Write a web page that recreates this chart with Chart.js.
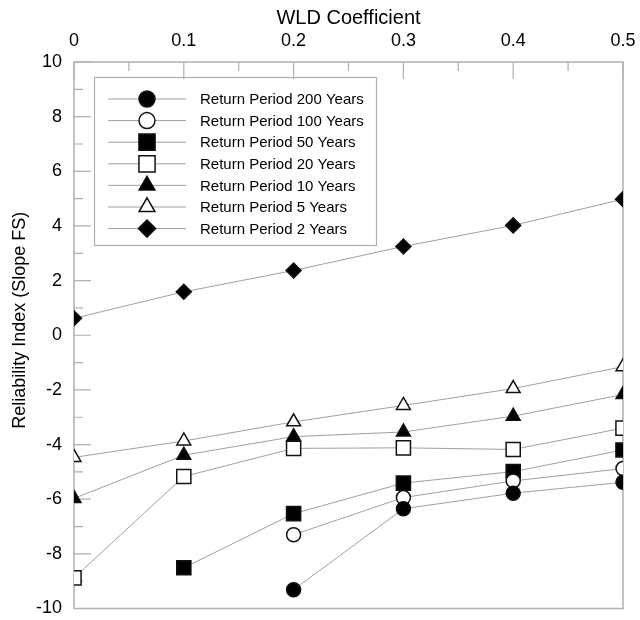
<!DOCTYPE html>
<html>
<head>
<meta charset="utf-8">
<script src="https://cdn.jsdelivr.net/npm/chart.js@4/dist/chart.umd.min.js"></script>
<style>
  body { margin: 0; background: #fff; }
  canvas { display: block; }
</style>
</head>
<body>
<canvas id="wld" width="640" height="620"></canvas>
<script>
// WLD coefficient (x axis)
var wld = [0, 0.1, 0.2, 0.3, 0.4, 0.5];
// Reliability index for each return period (null = no point)
var rp200 = [null, null, -9.31, -6.35, -5.78, -5.38];
var rp100 = [null, null, -7.30, -5.94, -5.33, -4.88];
var rp50 = [null, -8.51, -6.53, -5.41, -4.99, -4.20];
var rp20 = [-8.88, -5.17, -4.14, -4.12, -4.18, -3.40];
var rp10 = [-5.97, -4.39, -3.71, -3.54, -2.96, -2.17];
var rp5 = [-4.47, -3.87, -3.17, -2.57, -1.95, -1.15];
var rp2 = [0.62, 1.59, 2.37, 3.25, 4.02, 4.98];
var seriesNames = ["Return Period 200 Years", "Return Period 100 Years", "Return Period 50 Years",
  "Return Period 20 Years", "Return Period 10 Years", "Return Period 5 Years", "Return Period 2 Years"];

var FONT = "'Liberation Sans', Arial, sans-serif";
var axisGray = "#b0b0b0";
var lineGray = "#a0a0a0";

function pts(arr) {
  return wld.map(function (x, i) { return { x: x, y: arr[i] }; });
}

function series(name, arr, style, filled, r) {
  return {
    label: name,
    data: pts(arr),
    borderColor: lineGray,
    borderWidth: 1,
    pointStyle: style,
    pointRadius: r,
    pointHoverRadius: r,
    pointBackgroundColor: filled ? "#000" : "#fff",
    pointBorderColor: "#111",
    pointBorderWidth: 1.5,
    fill: false,
    tension: 0,
    spanGaps: false
  };
}

// frame + inward ticks like the original plot
var framePlugin = {
  id: "frame",
  beforeDatasetsDraw: function (chart) {
    var ctx = chart.ctx, a = chart.chartArea;
    var xs = chart.scales.x, ys = chart.scales.y;
    ctx.save();
    ctx.strokeStyle = axisGray;
    ctx.lineWidth = 1.5;
    ctx.strokeRect(a.left, a.top, a.right - a.left, a.bottom - a.top);
    ctx.lineWidth = 1.2;
    ctx.beginPath();
    for (var k = 0; k <= 10; k++) {
      var px = xs.getPixelForValue(k * 0.05);
      var len = k % 2 === 0 ? 17 : 9;
      ctx.moveTo(px, a.top);
      ctx.lineTo(px, a.top + len);
    }
    for (var v = -10; v <= 10; v++) {
      var py = ys.getPixelForValue(v);
      var l2 = v % 2 === 0 ? 17 : 9;
      ctx.moveTo(a.left, py);
      ctx.lineTo(a.left + l2, py);
    }
    ctx.stroke();
    ctx.restore();
  }
};

// boxed legend with line + marker samples
var legendPlugin = {
  id: "boxLegend",
  afterDraw: function (chart) {
    var ctx = chart.ctx, a = chart.chartArea;
    var bx = a.left + 20, by = a.top + 15, bw = 282, bh = 168;
    ctx.save();
    ctx.strokeStyle = axisGray;
    ctx.lineWidth = 1.2;
    ctx.strokeRect(bx + 0.5, by + 0.5, bw, bh);
    chart.data.datasets.forEach(function (ds, i) {
      var cy = by + 22 + i * 21.6;
      ctx.strokeStyle = lineGray;
      ctx.lineWidth = 1;
      ctx.beginPath();
      ctx.moveTo(bx + 14, cy);
      ctx.lineTo(bx + 92, cy);
      ctx.stroke();
      ctx.fillStyle = ds.pointBackgroundColor;
      ctx.strokeStyle = ds.pointBorderColor;
      ctx.lineWidth = 1.5;
      Chart.helpers.drawPoint(ctx, {
        pointStyle: ds.pointStyle,
        radius: ds.pointRadius * 8 / 7,
        rotation: 0,
        borderWidth: 1.5
      }, bx + 53, cy);
      ctx.fillStyle = "#000";
      ctx.font = "15px " + FONT;
      ctx.textBaseline = "middle";
      ctx.textAlign = "left";
      ctx.fillText(ds.label, bx + 106, cy + 1);
    });
    ctx.restore();
  }
};

new Chart(document.getElementById("wld"), {
  type: "line",
  data: {
    datasets: [
      series(seriesNames[0], rp200, "circle", true, 7),
      series(seriesNames[1], rp100, "circle", false, 7),
      series(seriesNames[2], rp50, "rect", true, 10),
      series(seriesNames[3], rp20, "rect", false, 10),
      series(seriesNames[4], rp10, "triangle", true, 8),
      series(seriesNames[5], rp5, "triangle", false, 8),
      series(seriesNames[6], rp2, "rectRot", true, 7.5)
    ]
  },
  options: {
    responsive: false,
    animation: false,
    layout: { padding: { left: 0, right: 17, top: 0, bottom: 8 } },
    plugins: {
      legend: { display: false },
      tooltip: { enabled: false }
    },
    scales: {
      x: {
        type: "linear",
        position: "top",
        min: 0,
        max: 0.5,
        grid: { display: false, drawTicks: false },
        border: { display: false },
        ticks: {
          stepSize: 0.1,
          color: "#000",
          padding: 12,
          font: { family: FONT, size: 18, lineHeight: 1 },
          callback: function (v) { return String(+v.toFixed(1)); }
        },
        title: {
          display: true,
          text: "WLD Coefficient",
          color: "#000",
          font: { family: FONT, size: 20 },
          padding: { top: 6, bottom: 0 }
        },
        afterFit: function (s) {
          s.height = 62;
          s.paddingLeft = 0;
          s.paddingRight = 0;
        }
      },
      y: {
        min: -10,
        max: 10,
        grid: { display: false, drawTicks: false },
        border: { display: false },
        ticks: {
          stepSize: 2,
          color: "#000",
          padding: 12,
          font: { family: FONT, size: 18, lineHeight: 1 }
        },
        title: {
          display: true,
          text: "\u00a0\u00a0\u00a0\u00a0\u00a0\u00a0Reliability Index (Slope FS)",
          color: "#000",
          font: { family: FONT, size: 18 },
          padding: { top: 9, bottom: 0 }
        },
        afterFit: function (s) {
          s.width = 74;
          s.paddingTop = 0;
          s.paddingBottom = 0;
        }
      }
    }
  },
  plugins: [framePlugin, legendPlugin]
});
</script>
</body>
</html>
